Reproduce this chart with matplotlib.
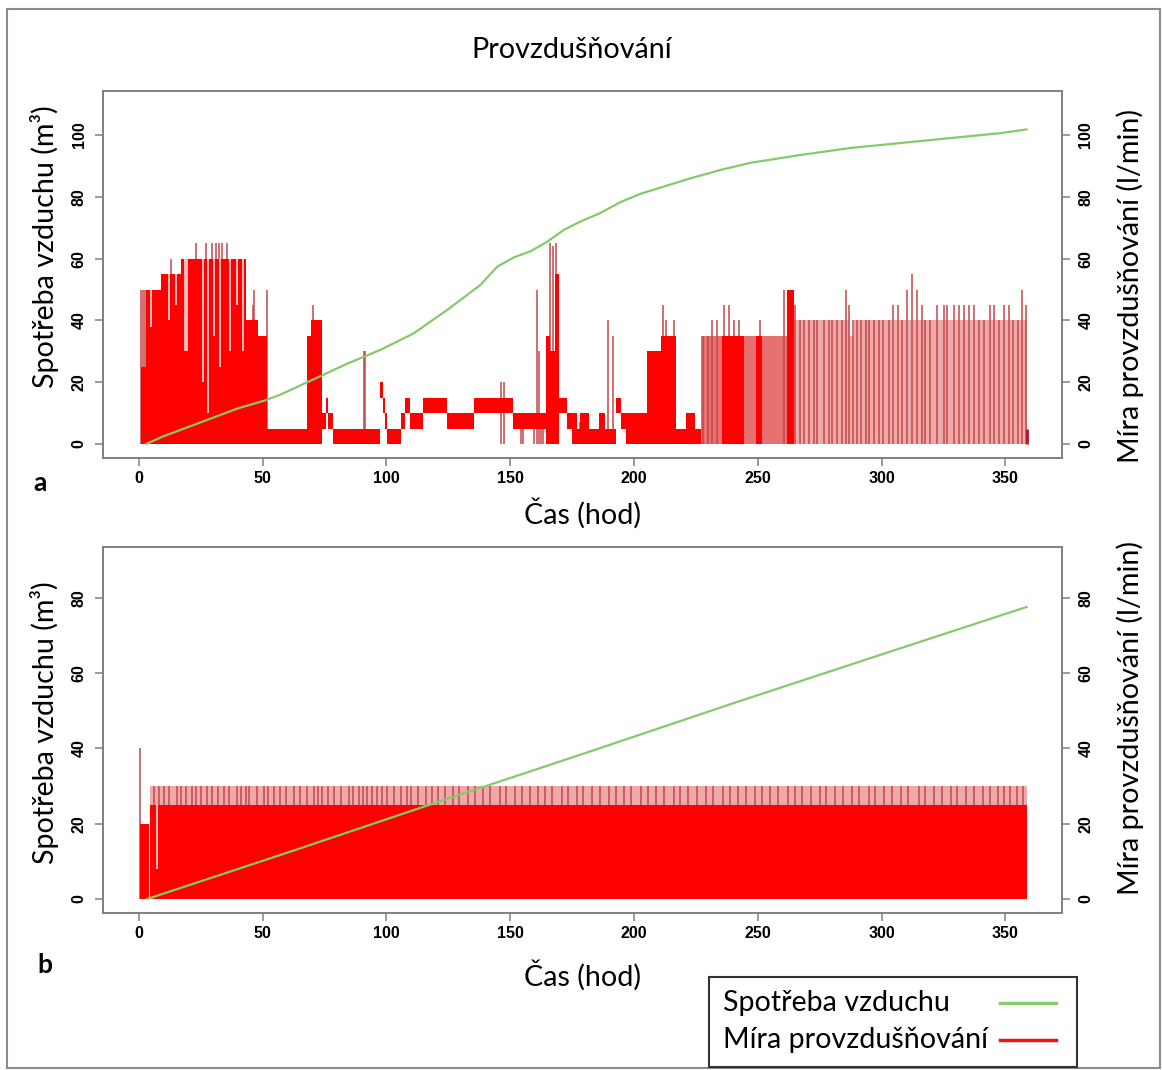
import numpy as np
import matplotlib.pyplot as plt
from matplotlib.patches import Rectangle
from matplotlib.lines import Line2D

plt.rcParams['font.family'] = ['Lato', 'DejaVu Sans']

# ---------- panel a ----------
# cumulative air use (m3)
a_cum_t = [3.0, 10, 25, 40, 50.6, 57.3, 65.4, 70.8, 84.2, 97.7, 111, 124.6, 138, 144.8,
           151.5, 158.3, 165, 171.7, 178.4, 186.5, 194.6, 202.7, 212.8, 222.9, 235, 247,
           267, 287.4, 307.6, 327.8, 348, 358.5]
a_cum_v = [0, 2.5, 7.0, 11.5, 14.0, 16.0, 19.0, 21.0, 26.0, 30.5, 35.8, 43.4, 51.5, 57.4,
           60.4, 62.4, 65.5, 69.3, 72, 74.8, 78.3, 81.0, 83.5, 86.0, 88.7, 91,
           93.5, 95.8, 97.4, 99, 100.6, 101.8]

# aeration rate (l/min): range covered by the rate in each period (lo..hi)
a_t = [0.8, 3.0, 9.0, 17.0, 43.5, 48.0, 51.8, 68.0, 69.4, 74.2, 75.5, 76.3, 78.3,
       97.3, 98.5, 99.5, 100.4, 105.8, 107.5, 109.6, 114.6, 124.6, 135.4, 151.3,
       164.5, 166.0, 168.0, 169.8, 173.0, 175.0, 177.0, 178.0, 181.7, 185.7, 188.4,
       192.6, 194.6, 196.6, 205.4, 210.7, 216.8, 221.0, 224.5, 226.9,
       235.6, 244.4, 249.1, 251.8, 261.9, 264.6]
a_lo = [0, 0, 0, 0, 0, 0, 0, 0, 0, 5, 10, 5, 0,
        15, 10, 5, 0, 5, 10, 5, 10, 5, 10, 5,
        0, 0, 0, 10, 5, 0, 0, 0, 0, 0, 0,
        10, 5, 0, 0, 0, 0, 0, 0, 0,
        0, 0, 0, 0, 0, 0]
a_hi = [25, 50, 55, 60, 40, 35, 5, 35, 40, 10, 15, 10, 5,
        20, 15, 10, 5, 10, 15, 10, 15, 10, 15, 10,
        35, 30, 55, 15, 10, 10, 5, 10, 5, 10, 5,
        15, 10, 10, 30, 35, 5, 10, 5, 0,
        35, 0, 35, 0, 50, 0]

# busy sparse period (226.9-264.6) and light sparse period (264.6-358.8)
a_sp1_t = [226.9, 264.6]
a_sp1_v = [35, 0]
a_sp2_t = [264.6, 287.0, 289.0, 358.8]
a_sp2_v = [40, 35, 40, 0]

# single short readings (l/min)
a_stk_t = [1.0, 1.8, 2.6, 12.9, 23.0, 27.0, 29.7, 31.1, 32.4, 33.8, 35.8, 46.0, 46.5,
           52.0, 70.4, 90.8, 91.5, 146.3, 147.5, 154.2, 155.0, 159.5, 160.8, 161.5,
           162.3, 163.2, 166.0, 167.3, 168.6, 175.4, 176.7, 178.0, 189.5, 191.5,
           211.8, 213.0, 216.1, 228.0, 230.0, 231.6, 233.6, 236.3, 238.3, 240.3,
           242.3, 251.0, 260.5, 263.2,
           265.2, 267.0, 268.6, 270.6, 272.6, 274.0, 276.7, 278.7, 280.0, 282.0,
           284.0, 285.4, 286.8, 288.5, 289.9, 291.5, 293.5, 294.8, 296.9, 298.9,
           300.6, 302.9, 304.7, 306.5, 308.3, 310.3, 312.3, 314.1, 316.4, 317.7,
           319.7, 322.4, 325.1, 326.5, 329.4, 331.2, 333.2, 335.2, 337.2, 339.2,
           341.3, 343.9, 345.3, 347.3, 349.3, 351.4, 353.1, 355.0, 356.8, 358.1]
a_stk_v = [50, 50, 50, 60, 65, 65, 65, 65, 65, 65, 65, 45, 50,
           50, 45, 30, 30, 20, 20, 7, 7, 8, 50, 30,
           8, 8, 65, 64, 65, 7, 7, 7, 40, 35,
           45, 40, 40, 35, 35, 40, 40, 45, 45, 40,
           40, 40, 50, 50,
           45, 40, 40, 40, 40, 40, 40, 40, 40, 40,
           40, 50, 45, 40, 40, 40, 40, 40, 40, 40,
           40, 40, 45, 45, 40, 50, 55, 50, 45, 40,
           40, 45, 45, 45, 45, 45, 45, 45, 45, 40,
           40, 45, 45, 40, 45, 45, 40, 40, 50, 45]
a_end_t, a_end_v = 358.8, 5

# short drops inside the dense period (rate fell to this value)
a_dip_t = [5.0, 12.4, 15.0, 18.5, 19.5, 26.0, 28.0, 30.3, 33.0, 37.0, 39.5, 42.0]
a_dip_v = [38, 40, 45, 30, 30, 20, 10, 35, 25, 30, 45, 30]

# ---------- panel b ----------
b_cum_t = [3.5, 60, 120, 180, 240, 300, 358.5]
b_cum_v = [0, 12.3, 25.6, 38.7, 52.0, 65.0, 77.6]

b_t = [0.5, 4.2, 4.7, 358.8]
b_lo = [0, 0, 0, 0]
b_hi = [20, 0, 25, 0]

b_sp_t = [4.7, 358.8]
b_sp_v = [30, 0]

b_stk_t = [0.5, 6.2, 8.1, 10.2, 12.4, 15.6, 17.2, 19.0, 21.7, 23.1, 25.0, 27.6, 29.7,
           32.0, 34.4, 36.5, 39.8, 41.3, 43.2, 44.5, 47.9, 50.6, 52.3, 54.6, 57.0,
           59.3, 62.7, 65.1, 68.0, 70.8, 72.4, 74.2, 76.5, 78.9, 81.8, 84.9, 86.7,
           88.9, 90.4, 92.3, 94.1, 96.4, 98.2, 100.4, 103.1, 105.9, 108.2, 110.0,
           112.7, 116.0, 118.3, 121.0, 123.8, 127.0, 129.5, 133.0, 135.6, 139.0,
           141.7, 146.0, 148.4, 152.0, 154.9, 158.0, 161.3, 164.0, 166.8, 171.0,
           173.5, 177.0, 179.6, 183.0, 186.2, 190.0, 192.8, 196.0, 198.7, 203.0,
           205.5, 209.0, 212.3, 216.0, 218.6, 222.0, 225.4, 229.0, 231.8, 236.0,
           238.7, 242.0, 245.2, 249.0, 251.6, 255.0, 258.3, 262.0, 264.9, 268.0,
           271.4, 275.0, 277.6, 281.0, 284.3, 288.0, 290.9, 295.0, 297.5, 301.0,
           304.2, 308.0, 310.8, 315.0, 317.7, 321.0, 324.4, 328.0, 330.6, 334.0,
           337.3, 341.0, 343.8, 347.0, 349.5, 352.0, 354.6, 357.0]
b_stk_v = [40] + [30] * (len(b_stk_t) - 1)

b_dip_t = [7.4]
b_dip_v = [8]

xticks = [0, 50, 100, 150, 200, 250, 300, 350]
a_yticks = [0, 20, 40, 60, 80, 100]
b_yticks = [0, 20, 40, 60, 80]

RED = '#ff0000'
PINK = '#eeaaaa'
PINK_DARK = '#e77070'
STICK = '#c4474a'
GREEN = '#86c96a'
GRAY = '#808080'
TXT = 20.6

fig = plt.figure(figsize=(11.62, 10.70), dpi=100)
W, H = 1162.0, 1070.0


def make_axes(top, bottom, ylim, yticks):
    ax = fig.add_axes([103.3 / W, 1 - bottom / H, (1061.7 - 103.3) / W, (bottom - top) / H])
    ax.set_xlim(-14.3, 372.7)
    ax.set_ylim(*ylim)
    ax2 = ax.twinx()
    ax2.set_ylim(*ylim)
    for a in (ax, ax2):
        for s in a.spines.values():
            s.set_color(GRAY)
            s.set_linewidth(1.2)
        a.tick_params(length=6, width=1.1, color=GRAY, pad=4, labelsize=11.5)
    ax.set_xticks(xticks)
    ax.set_xticklabels([str(v) for v in xticks], fontweight='bold',
                       family='Liberation Sans', fontsize=11.5)
    for a in (ax, ax2):
        a.set_yticks(yticks)
        a.set_yticklabels([str(v) for v in yticks], fontweight='bold', rotation=90,
                          va='center', family='Liberation Sans', fontsize=11.5)
        a.tick_params(axis='y', pad=6)
    return ax


def draw_rate(ax, t, lo, hi, stk_t, stk_v, dip_t, dip_v, cum_t, cum_v):
    ax.vlines(stk_t, 0, stk_v, color=STICK, lw=1.1, zorder=1.5)
    ax.fill_between(t, lo, hi, step='post', color=RED, lw=0, zorder=2)
    tt = np.array(t)
    hh = np.array(hi)
    idx = np.searchsorted(tt, dip_t, side='right') - 1
    ax.vlines(dip_t, dip_v, hh[idx], color='#f6cccc', lw=1.3, zorder=3)
    ax.plot(cum_t, cum_v, color=GREEN, lw=1.6, zorder=5)


ax_a = make_axes(90.5, 457.6, (-4.4, 114.4), a_yticks)
ax_a.fill_between(a_sp1_t, 0, a_sp1_v, step='post', color=PINK_DARK, lw=0, zorder=1)
ax_a.fill_between(a_sp2_t, 0, a_sp2_v, step='post', color=PINK, lw=0, zorder=1)
draw_rate(ax_a, a_t, a_lo, a_hi, a_stk_t, a_stk_v,
          a_dip_t, a_dip_v, a_cum_t, a_cum_v)
ax_a.vlines([a_end_t], 0, [a_end_v], color='#b0102a', lw=2, zorder=4)

ax_b = make_axes(546.8, 912.5, (-3.6, 93.6), b_yticks)
ax_b.fill_between(b_sp_t, 0, b_sp_v, step='post', color=PINK, lw=0, zorder=1)
draw_rate(ax_b, b_t, b_lo, b_hi, b_stk_t, b_stk_v,
          b_dip_t, b_dip_v, b_cum_t, b_cum_v)

# texts
fig.text(572 / W, 1 - 50 / H, 'Provzdušňování', ha='center', va='center', fontsize=TXT)
for yc in (247, 723):
    fig.text(45 / W, 1 - yc / H, 'Spotřeba vzduchu (m³)', rotation=90,
             ha='center', va='center', fontsize=TXT)
for yc in (286, 718):
    fig.text(1130 / W, 1 - yc / H, 'Míra provzdušňování (l/min)', rotation=90,
             ha='center', va='center', fontsize=TXT)
for yc in (513, 975):
    fig.text(583 / W, 1 - yc / H, 'Čas (hod)', ha='center', va='center', fontsize=TXT)
fig.text(40 / W, 1 - 483 / H, 'a', ha='center', va='center', fontsize=19, fontweight='bold')
fig.text(45 / W, 1 - 965 / H, 'b', ha='center', va='center', fontsize=19, fontweight='bold')

# outer frame
fig.add_artist(Rectangle((7 / W, 1 - 1068 / H), 1153 / W, 1059 / H, transform=fig.transFigure,
                         fill=False, edgecolor='#8c8c8c', lw=1.5))

# legend box (text first, line sample on the right)
fig.add_artist(Rectangle((709 / W, 1 - 1067 / H), 368 / W, 90 / H, transform=fig.transFigure,
                         fill=False, edgecolor='#333333', lw=1.5))
for yc, lab, col in ((1003, 'Spotřeba vzduchu', '#8cc96c'),
                     (1040, 'Míra provzdušňování', '#e8141c')):
    fig.text(723 / W, 1 - yc / H, lab, ha='left', va='center', fontsize=TXT)
    fig.add_artist(Line2D([1000 / W, 1056 / W], [1 - yc / H, 1 - yc / H],
                          transform=fig.transFigure, color=col, lw=2.5))

fig.savefig('out.png', dpi=100)
